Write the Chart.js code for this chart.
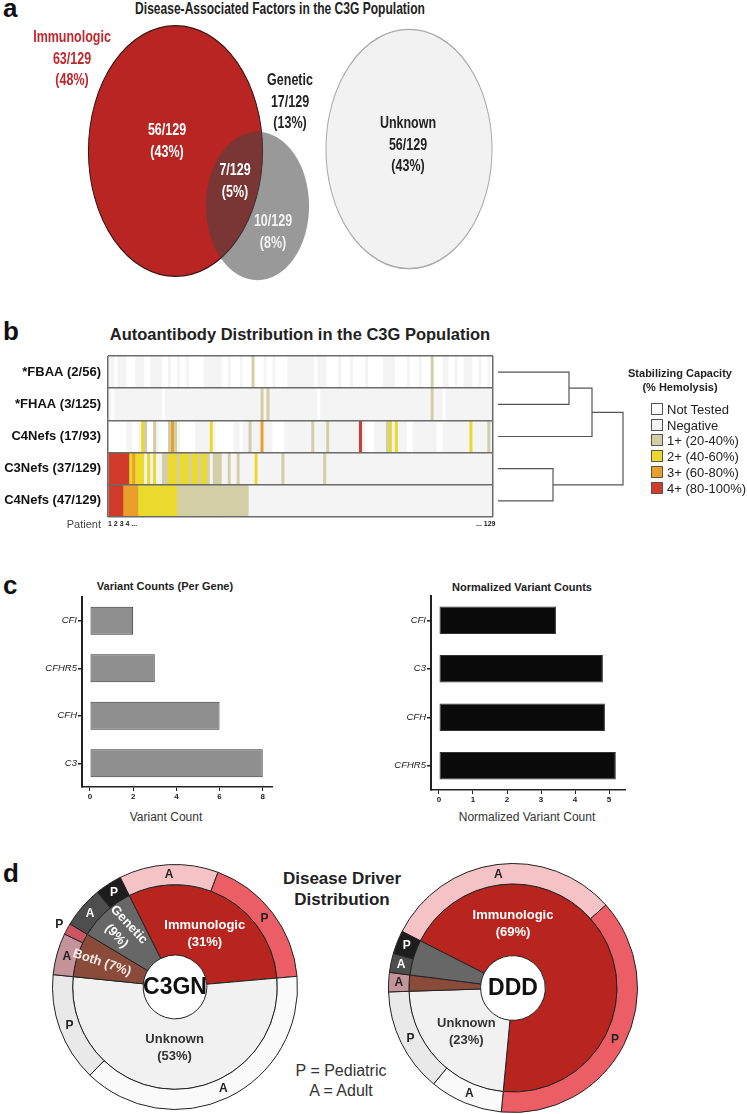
<!DOCTYPE html>
<html>
<head>
<meta charset="utf-8">
<script src="https://cdn.jsdelivr.net/npm/chart.js@4.4.1/dist/chart.umd.min.js"></script>
<style>
  body { margin: 0; background: #fff; }
  #page { position: relative; width: 747px; height: 1114px; overflow: hidden; font-family: Arial, "Liberation Sans", sans-serif; color: #222; }
  .box { position: absolute; }
  .txt { position: absolute; white-space: nowrap; }
  .letter { position: absolute; font: bold 26px Arial, "Liberation Sans", sans-serif; color: #111; line-height: 26px; }
  .narrow { font-family: Arial, "Liberation Sans", sans-serif; font-weight: bold; text-align: center; transform: scaleX(0.78); transform-origin: 50% 0; }
  .bold { font-weight: bold; }
  .sq { display: inline-block; width: 10px; height: 10px; border: 1px solid #555; vertical-align: -1px; margin-right: 4px; }
</style>
</head>
<body>
<div id="page">
  <div class="letter" style="left:3px;top:-5px">a</div>
  <div class="txt narrow" style="left:30px;top:-1px;width:500px;font-size:16.5px;line-height:18px;transform:scaleX(0.73)">Disease-Associated Factors in the C3G Population</div>
  <div class="box" style="left:0;top:0;width:500px;height:290px"><canvas id="venn"></canvas></div>
  <div id="vennLabels"></div>

  <div class="letter" style="left:3px;top:318px">b</div>
  <div class="txt bold" style="left:80px;top:325px;width:440px;text-align:center;font-size:16.5px">Autoantibody Distribution in the C3G Population</div>
  <div class="box" style="left:0;top:348px;width:494px;height:177px"><canvas id="heat"></canvas></div>
  <div class="box" style="left:496px;top:355px;width:130px;height:163px"><canvas id="dendro"></canvas></div>
  <div class="txt" style="left:40px;top:518px;width:61px;text-align:right;font-size:11px;color:#444">Patient</div>
  <div class="txt bold" style="left:108px;top:520px;font-size:7px">1 2 3 4 ...</div>
  <div class="txt bold" style="left:476px;top:520px;font-size:7px">... 129</div>
  <div class="txt bold" style="left:620px;top:366px;width:120px;text-align:center;font-size:11px;line-height:14px">Stabilizing Capacity<br>(% Hemolysis)</div>
  <div id="heatLegend" class="txt" style="left:651px;top:402px;font-size:13px;line-height:15.7px"></div>

  <div class="letter" style="left:3px;top:572px">c</div>
  <div class="txt bold" style="left:60px;top:580px;width:210px;text-align:center;font-size:11px">Variant Counts (Per Gene)</div>
  <div class="txt bold" style="left:420px;top:581px;width:204px;text-align:center;font-size:11px">Normalized Variant Counts</div>
  <div class="box" style="left:0;top:590px;width:290px;height:215px"><canvas id="counts"></canvas></div>
  <div class="box" style="left:380px;top:589px;width:260px;height:219px"><canvas id="norm"></canvas></div>
  <div class="txt" style="left:86px;top:810px;width:160px;text-align:center;font-size:12px;color:#333">Variant Count</div>
  <div class="txt" style="left:427px;top:810px;width:200px;text-align:center;font-size:12px;color:#333">Normalized Variant Count</div>

  <div class="letter" style="left:3px;top:860px">d</div>
  <div class="txt bold" style="left:262px;top:868px;width:160px;text-align:center;font-size:17px;line-height:21px">Disease Driver<br>Distribution</div>
  <div class="txt" style="left:271px;top:1061px;width:140px;text-align:center;font-size:16px;line-height:20px;color:#333">P = Pediatric<br>A = Adult</div>
  <div class="box" style="left:50px;top:862px;width:250px;height:250px"><canvas id="c3gn"></canvas></div>
  <div class="box" style="left:386px;top:861px;width:254px;height:254px"><canvas id="ddd"></canvas></div>
</div>

<script>
// ---- panel a: venn counts ----
const vennN = 129;
const vennSets = ['Immunologic', 'Genetic', 'Unknown'];
const vennTotals = [63, 17, 56];
const vennTotalPct = [48, 13, 43];
const vennOnly = [56, 10, 56];
const vennOnlyPct = [43, 8, 43];
const vennShared = 7;
const vennSharedPct = 5;

// ---- panel b: autoantibody heatmap ----
const nPatients = 129;
const rowLabels = ['*FBAA (2/56)', '*FHAA (3/125)', 'C4Nefs (17/93)', 'C3Nefs (37/129)', 'C4Nefs (47/129)'];
const levelNames = ['Not Tested', 'Negative', '1+ (20-40%)', '2+ (40-60%)', '3+ (60-80%)', '4+ (80-100%)'];
// patients not tested, as [first, last] ranges per row
const notTestedRanges = [
  [[2,2],[6,8],[12,13],[18,19],[21,22],[24,25],[27,31],[38,39],[41,43],[45,47],[49,51],[53,54],[56,59],[69,69],[73,76],[78,80],[82,85],[87,91],[96,99],[101,103],[105,107],[109,111],[114,115],[117,118],[122,123],[125,126],[128,128]],
  [[1,1],[18,18],[70,70],[112,112]],
  [[0,5],[8,9],[13,14],[17,19],[24,28],[36,41],[44,44],[55,58],[86,88],[100,101],[110,111]],
  [],
  []
];
// positive patients as [first, last, level]
const positiveRanges = [
  [[48,48,1],[108,108,1]],
  [[51,51,1],[53,53,1],[108,108,1]],
  [[11,11,2],[12,12,1],[15,15,1],[20,20,1],[21,21,3],[22,22,1],[34,34,2],[47,47,1],[51,51,3],[68,68,1],[73,73,1],[84,84,4],[93,93,1],[94,94,2],[96,96,2],[121,121,2],[127,127,1]],
  [[0,6,4],[7,7,2],[8,8,3],[9,11,2],[13,13,2],[15,15,2],[18,19,1],[20,22,2],[23,23,1],[24,26,2],[27,27,1],[28,29,2],[30,30,1],[31,32,2],[33,33,1],[35,37,1],[40,40,1],[43,43,1],[49,49,2],[58,58,1],[72,72,1]],
  [[0,4,4],[5,9,3],[10,22,2],[23,46,1]]
];
// hierarchical clustering of rows: [nodeA, nodeB, height]
const dendroLinks = [[0, 1, 71], [3, 4, 55], [5, 2, 94], [7, 6, 125]];

// ---- panel c: variant counts ----
const geneLabels = ['CFI', 'CFHR5', 'CFH', 'C3'];
const variantCounts = [2, 3, 6, 8];
const countTicks = [0, 2, 4, 6, 8];
const normGeneLabels = ['CFI', 'C3', 'CFH', 'CFHR5'];
const normCounts = [3.44, 4.82, 4.88, 5.2];
const normTicks = [0, 1, 2, 3, 4, 5];

// ---- panel d: disease drivers (% of cohort) ----
const driverCats = ['Immunologic', 'Unknown', 'Both', 'Genetic'];
const c3gnInner = [31, 53, 7, 9];
const dddInner = [69, 23, 2.5, 5.5];
const ageGroups = ['A', 'P', 'A', 'P', 'A', 'P', 'A', 'P'];
const c3gnOuter = [13.1, 17.9, 38.6, 14.4, 5.5, 1.5, 5.5, 3.5];
const dddOuter = [30.9, 38.1, 9.5, 13.5, 2.5, 0, 2.5, 3];

// ---- styles ----
const FONT = 'Arial, "Liberation Sans", sans-serif';
Chart.defaults.font.family = FONT;
Chart.defaults.color = '#222';
Chart.defaults.animation = false;
Chart.defaults.events = [];
Chart.defaults.plugins.legend.display = false;
Chart.defaults.plugins.tooltip.enabled = false;

const levelColors = ['#ffffff', '#f4f4f4', '#d2cfa6', '#ebd92d', '#e99f2c', '#d13b2b'];

// ===== panel a =====
const vennCenters = [[175.5, 151], [257.5, 206], [409, 149]];
const vennFill = ['#b82522', 'rgba(70,70,70,0.55)', '#f2f2f2'];
const vennEdge = ['#3a1512', 'rgba(0,0,0,0)', '#a9a9a9'];
const vennOrder = [2, 1, 3];

// the sets are drawn as circles and stretched to ellipses as in the figure
const stretchPlugin = {
  id: 'stretch',
  beforeDatasetDraw(chart, args, opts) {
    const pt = args.meta.data[0];
    const ctx = chart.ctx;
    ctx.save();
    ctx.translate(pt.x, pt.y);
    ctx.scale(1, opts.k);
    ctx.translate(-pt.x, -pt.y);
  },
  afterDatasetDraw(chart) {
    chart.ctx.restore();
  }
};

new Chart(document.getElementById('venn'), {
  type: 'bubble',
  data: {
    datasets: vennSets.map((name, i) => ({
      label: name,
      order: vennOrder[i],
      clip: false,
      data: [{ x: vennCenters[i][0], y: vennCenters[i][1], r: 16.6 * Math.pow(vennTotals[i], 0.4) }],
      backgroundColor: vennFill[i],
      borderColor: vennEdge[i],
      borderWidth: 1
    }))
  },
  options: {
    responsive: true,
    maintainAspectRatio: false,
    layout: { padding: 0, autoPadding: false },
    scales: {
      x: { display: false, min: 0, max: 500 },
      y: { display: false, min: 0, max: 290, reverse: true }
    },
    plugins: { stretch: { k: 1.44 } }
  },
  plugins: [stretchPlugin]
});

const frac = n => `${n}/${vennN}`;
const vennText = [
  { cx: 72, top: 26, color: '#c0272d', lines: [vennSets[0], frac(vennTotals[0]), `(${vennTotalPct[0]}%)`] },
  { cx: 290, top: 69, color: '#222', lines: [vennSets[1], frac(vennTotals[1]), `(${vennTotalPct[1]}%)`] },
  { cx: 408, top: 112, color: '#222', lines: [vennSets[2], frac(vennTotals[2]), `(${vennTotalPct[2]}%)`] },
  { cx: 167, top: 119, color: '#fff', lines: [frac(vennOnly[0]), `(${vennOnlyPct[0]}%)`] },
  { cx: 235, top: 159, color: '#fff', lines: [frac(vennShared), `(${vennSharedPct}%)`] },
  { cx: 273, top: 210, color: '#f2f2f2', lines: [frac(vennOnly[1]), `(${vennOnlyPct[1]}%)`] }
];
document.getElementById('vennLabels').innerHTML = vennText.map(t =>
  `<div class="txt narrow" style="left:${t.cx - 60}px;top:${t.top}px;width:120px;font-size:16px;line-height:21.5px;color:${t.color}">${t.lines.join('<br>')}</div>`
).join('');

// ===== panel b =====
const levels = rowLabels.map(() => new Array(nPatients).fill(0));
notTestedRanges.forEach((ranges, r) => ranges.forEach(([a, b]) => {
  for (let i = a; i <= b; i++) levels[r][i] = -1;
}));
positiveRanges.forEach((ranges, r) => ranges.forEach(([a, b, lv]) => {
  for (let i = a; i <= b; i++) levels[r][i] = lv;
}));

const heatSets = [];
for (let p = 0; p < nPatients; p++) {
  heatSets.push({
    label: 'Patient ' + (p + 1),
    data: rowLabels.map(() => 1),
    backgroundColor: rowLabels.map((_, r) => levelColors[levels[r][p] + 1]),
    borderWidth: 0,
    barPercentage: 1,
    categoryPercentage: 1
  });
}

new Chart(document.getElementById('heat'), {
  type: 'bar',
  data: { labels: rowLabels, datasets: heatSets },
  options: {
    indexAxis: 'y',
    responsive: true,
    maintainAspectRatio: false,
    layout: { padding: { top: 8, bottom: 8, right: 1, left: 0 } },
    scales: {
      x: {
        stacked: true, min: 0, max: nPatients,
        afterBuildTicks: s => { s.ticks = [{ value: 0 }, { value: nPatients }]; },
        ticks: { display: false },
        grid: { color: '#6b6b6b', lineWidth: 1.5, drawTicks: false, z: 1 },
        border: { display: false },
        afterFit: s => { s.height = 0; }
      },
      y: {
        stacked: true,
        ticks: { font: { size: 13, weight: 'bold' }, color: '#111', padding: 0 },
        grid: { color: '#6b6b6b', lineWidth: 1.5, drawTicks: true, tickLength: 7, tickColor: 'rgba(0,0,0,0)', z: 1 },
        border: { display: false },
        afterFit: s => { s.width = 108; }
      }
    }
  }
});

// dendrogram from the linkage table
const nodePos = rowLabels.map((_, i) => ({ x: 0, y: i }));
const dendroSets = dendroLinks.map(([a, b, h]) => {
  const pa = nodePos[a], pb = nodePos[b];
  nodePos.push({ x: h, y: (pa.y + pb.y) / 2 });
  return {
    data: [{ x: pa.x, y: pa.y }, { x: h, y: pa.y }, { x: h, y: pb.y }, { x: pb.x, y: pb.y }],
    showLine: true, borderColor: '#555', borderWidth: 1.2, pointRadius: 0, clip: false
  };
});
new Chart(document.getElementById('dendro'), {
  type: 'scatter',
  data: { datasets: dendroSets },
  options: {
    responsive: true,
    maintainAspectRatio: false,
    layout: { padding: { top: 1, bottom: 1, left: 0, right: 0 }, autoPadding: false },
    scales: {
      x: { display: false, min: -2, max: 128 },
      y: { display: false, min: -0.5, max: rowLabels.length - 0.5, reverse: true }
    }
  }
});

document.getElementById('heatLegend').innerHTML = levelNames.map((n, i) =>
  `<div><span class="sq" style="background:${levelColors[i]}"></span>${n}</div>`
).join('');

// ===== panel c =====
function hbar(id, labels, values, color, ticks, min, max, yWidth, pad, pct) {
  new Chart(document.getElementById(id), {
    type: 'bar',
    data: {
      labels: labels,
      datasets: [{
        data: values, backgroundColor: color, borderColor: '#333', borderWidth: 1,
        borderSkipped: false, barPercentage: pct, categoryPercentage: 1
      }]
    },
    options: {
      indexAxis: 'y',
      responsive: true,
      maintainAspectRatio: false,
      layout: { padding: pad },
      scales: {
        x: {
          min: min, max: max,
          afterBuildTicks: s => { s.ticks = ticks.map(v => ({ value: v })); },
          ticks: { font: { size: 8, weight: 'bold' }, color: '#222', padding: 1 },
          grid: { drawOnChartArea: false, color: '#222', tickLength: 4 },
          border: { color: '#222', width: 1.5 },
          afterFit: s => { s.height = 18; }
        },
        y: {
          ticks: { font: { size: 9.5, style: 'italic' }, color: '#222', padding: 1 },
          grid: { drawOnChartArea: false, offset: false, color: '#222', tickLength: 4, lineWidth: 1.5 },
          border: { color: '#222', width: 2 },
          afterFit: s => { s.width = yWidth; }
        }
      }
    }
  });
}
hbar('counts', geneLabels, variantCounts, '#8f8f8f', countTicks, -0.37, 8.43, 82, { top: 7, right: 18, left: 0, bottom: 0 }, 0.59);
hbar('norm', normGeneLabels, normCounts, '#0a0a0a', normTicks, -0.235, 5.47, 51, { top: 7, right: 15, left: 0, bottom: 0 }, 0.57);

// ===== panel d =====
const innerColors = ['#b8251f', '#f1f1f1', '#8b4b3a', '#676767'];
const innerText = ['#ffffff', '#333333', '#f6e9e4', '#ffffff'];
const outerColors = ['#f5c3c6', '#ec5e66', '#fafafa', '#e9e9e9', '#c4949a', '#cd5563', '#4e4e4e', '#1d1d1d'];
const outerText = ['#222', '#222', '#222', '#222', '#222', '#222', '#fff', '#fff'];

const ringLabels = {
  id: 'ringLabels',
  afterDatasetsDraw(chart, args, o) {
    const ctx = chart.ctx;
    ctx.save();
    ctx.textAlign = 'center';
    ctx.textBaseline = 'middle';
    // outer ring: age groups
    const outerVals = chart.data.datasets[0].data;
    chart.getDatasetMeta(0).data.forEach((arc, i) => {
      if (!outerVals[i]) return;
      const mid = (arc.startAngle + arc.endAngle) / 2;
      const span = (arc.endAngle - arc.startAngle) * arc.outerRadius;
      const outside = span < 14;
      const r = outside ? arc.outerRadius + 9 : (arc.innerRadius + arc.outerRadius) / 2;
      ctx.font = 'bold 12px ' + FONT;
      ctx.fillStyle = outside ? '#222' : outerText[i];
      ctx.fillText(ageGroups[i], arc.x + r * Math.cos(mid), arc.y + r * Math.sin(mid));
    });
    // inner ring: drivers
    const innerVals = chart.data.datasets[1].data;
    chart.getDatasetMeta(1).data.forEach((arc, i) => {
      const v = innerVals[i];
      if (v < o.minPct) return;
      const name = driverCats[i];
      const mid = o.angle[name] !== undefined ? o.angle[name] * Math.PI / 180 : (arc.startAngle + arc.endAngle) / 2;
      const rotated = o.rotated.includes(name);
      const r = rotated ? o.rotR : o.textR;
      const pct = `(${Math.round(v)}%)`;
      const lines = o.oneLine.includes(name) ? [`${name} ${pct}`] : [name, pct];
      ctx.save();
      ctx.translate(arc.x + r * Math.cos(mid), arc.y + r * Math.sin(mid));
      if (rotated) ctx.rotate(mid + Math.PI);
      ctx.font = 'bold 13px ' + FONT;
      ctx.fillStyle = innerText[i];
      lines.forEach((t, k) => ctx.fillText(t, 0, (k - (lines.length - 1) / 2) * 17));
      ctx.restore();
    });
    const arc0 = chart.getDatasetMeta(1).data[0];
    ctx.font = 'bold 23px ' + FONT;
    ctx.fillStyle = '#111';
    ctx.fillText(o.center, arc0.x, arc0.y + 1);
    ctx.restore();
  }
};

function driverChart(id, name, outer, inner, rotation, labelOpts) {
  new Chart(document.getElementById(id), {
    type: 'doughnut',
    data: {
      labels: ageGroups,
      datasets: [
        { data: outer, backgroundColor: outerColors, borderColor: '#222', borderWidth: 1, weight: 20 },
        { data: inner, backgroundColor: innerColors, borderColor: '#222', borderWidth: 1, weight: 70 }
      ]
    },
    options: {
      responsive: true,
      maintainAspectRatio: false,
      rotation: rotation,
      cutout: '26%',
      layout: { padding: 2 },
      plugins: { ringLabels: Object.assign({ center: name }, labelOpts) }
    },
    plugins: [ringLabels]
  });
}
driverChart('c3gn', 'C3GN', c3gnOuter, c3gnInner, -26.6,
  { minPct: 6, textR: 61, rotR: 77, rotated: ['Genetic', 'Both'], oneLine: ['Both'], angle: {} });
driverChart('ddd', 'DDD', dddOuter, dddInner, -63,
  { minPct: 6, textR: 64, rotR: 77, rotated: [], oneLine: [], angle: { Immunologic: -90 } });
</script>
</body>
</html>
